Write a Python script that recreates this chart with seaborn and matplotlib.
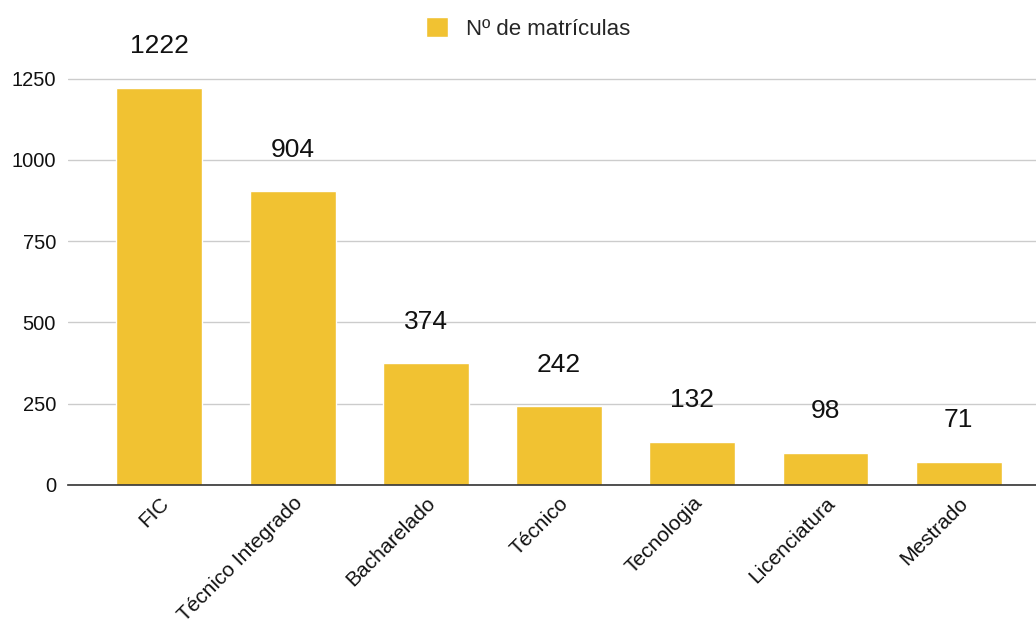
import pandas as pd
import seaborn as sns
import matplotlib.pyplot as plt

# Datos de matrículas por tipo de curso
cursos = ['FIC', 'Técnico Integrado', 'Bacharelado', 'Técnico', 'Tecnologia', 'Licenciatura', 'Mestrado']
matriculas = [1222, 904, 374, 242, 132, 98, 71]
serie = 'Nº de matrículas'
yticks = [0, 250, 500, 750, 1000, 1250]

df = pd.DataFrame({'curso': cursos, 'matriculas': matriculas})

sns.set_style('white')
plt.rcParams['font.family'] = ['Liberation Sans', 'DejaVu Sans']

fig = plt.figure(figsize=(10.36, 6.32), dpi=100)
ax = fig.add_axes([0.066, 0.2326, 0.934, 0.72])

sns.barplot(data=df, x='curso', y='matriculas', color='#F1C232', saturation=1,
            width=0.645, label=serie, ax=ax)

# Rótulos de valores acima das barras
for i, v in enumerate(matriculas):
    ax.annotate(str(v), (i, v), xytext=(0, 30), textcoords='offset points',
                ha='center', va='center', fontsize=19, color='#111111')

ax.set_ylim(0, 1400)
ax.set_xlim(-0.683, 6.58)
ax.set_yticks(yticks)
ax.set_yticklabels([str(t) for t in yticks], fontsize=14.5, color='#111111')
ax.set_xticks(range(len(cursos)))
ax.set_xticklabels(cursos, rotation=45, ha='right', rotation_mode='anchor',
                   fontsize=15, color='#111111')
ax.tick_params(axis='y', length=0, pad=9)
ax.tick_params(axis='x', length=0, pad=6)
ax.set_xlabel('')
ax.set_ylabel('')
ax.grid(axis='y', color='#cccccc', linewidth=1)
ax.set_axisbelow(True)
for s in ['top', 'right', 'left']:
    ax.spines[s].set_visible(False)
ax.spines['bottom'].set_color('#333333')
ax.spines['bottom'].set_linewidth(1.2)
ax.spines['bottom'].set_zorder(3)

ax.legend(loc='center', bbox_to_anchor=(0.51, 0.955), bbox_transform=fig.transFigure,
          frameon=False, fontsize=16, handlelength=1.0, handleheight=1.0, handletextpad=0.8)

fig.savefig('out.png', dpi=100)
